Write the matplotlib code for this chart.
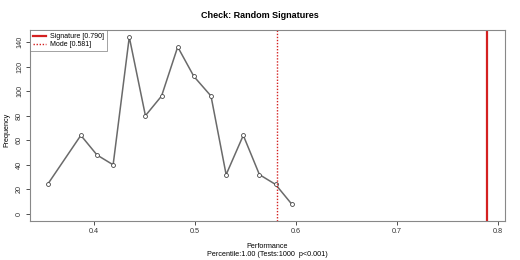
import matplotlib
matplotlib.use("Agg")
import matplotlib.pyplot as plt

perf = [0.354, 0.387, 0.403, 0.419, 0.435, 0.451, 0.467, 0.483, 0.499, 0.516,
        0.531, 0.548, 0.564, 0.580, 0.596]
freq = [24, 64, 48, 40, 144, 80, 96, 136, 112, 96, 32, 64, 32, 24, 8]
signature = 0.790
mode = 0.581
xticks = [0.4, 0.5, 0.6, 0.7, 0.8]
yticks = [0, 20, 40, 60, 80, 100, 120, 140]

plt.rcParams['font.family'] = ['Liberation Sans', 'DejaVu Sans']
fig = plt.figure(figsize=(5.2, 2.6), dpi=100)
ax = fig.add_axes([30/520, 39/260, 475/520, 191/260])

ax.plot(perf, freq, color='#6a6a6a', lw=1.1, marker='o', ms=2.8,
        mfc='white', mec='#444444', mew=0.6)
ax.axvline(signature, color='#d42020', lw=1.6, label='Signature [0.790]')
ax.axvline(mode, color='#d42020', lw=1.0, ls=(0, (1, 1.2)), label='Mode [0.581]')

ax.set_xlim(0.3366, 0.8074)
ax.set_ylim(-5.76, 149.76)
ax.set_xticks(xticks)
ax.set_xticklabels([str(t) for t in xticks])
ax.set_yticks(yticks)
ax.set_yticklabels([str(t) for t in yticks], rotation=90, va='center')
ax.tick_params(labelsize=5.2, length=3, width=0.6, colors='#333333', pad=2)
for s in ax.spines.values():
    s.set_color('#888888')
    s.set_linewidth(0.8)

fig.text(0.5, 1 - 16/260, 'Check: Random Signatures', ha='center', va='center',
         fontsize=6.5, fontweight='bold')
fig.text(267/520, 1 - 247/260, 'Performance', ha='center', va='center', fontsize=5.2)
fig.text(267/520, 1 - 254.5/260, 'Percentile:1.00 (Tests:1000  p<0.001)', ha='center',
         va='center', fontsize=5.2)
fig.text(7/520, 0.5, 'Frequency', rotation=90, ha='center', va='center', fontsize=5.2)

leg = ax.legend(loc='upper left', fontsize=5, frameon=True, fancybox=False,
                borderaxespad=0, handlelength=1.8, handletextpad=0.6,
                borderpad=0.45, labelspacing=0.15)
leg.get_frame().set_edgecolor('#777777')
leg.get_frame().set_linewidth(0.6)

fig.savefig('out.png', dpi=100)
